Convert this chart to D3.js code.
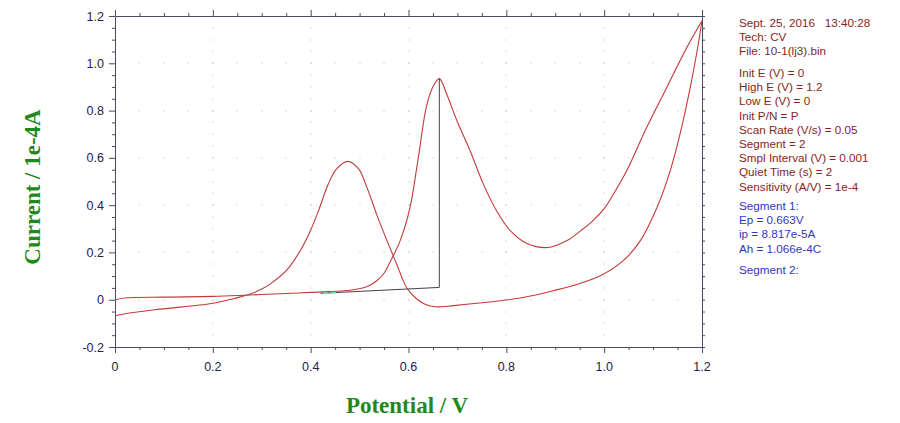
<!DOCTYPE html>
<html>
<head>
<meta charset="utf-8">
<script src="https://cdn.jsdelivr.net/npm/d3@7"></script>
<style>
  body { margin: 0; background: #fff; }
  svg { display: block; }
  .tick-label { font-family: "Liberation Sans", Arial, sans-serif; font-size: 12.5px; fill: #22224a; }
  .title { font-family: "Liberation Serif", "Times New Roman", serif; font-weight: bold; fill: #1e8a1e; }
  .info { font-family: "Liberation Sans", Arial, sans-serif; font-size: 11.7px; }
</style>
</head>
<body>
<svg id="chart" width="900" height="423"></svg>
<script>
// data

// forward scan 0 -> 1.2 V
var forwardE = [0, 0.02, 0.1, 0.2, 0.276, 0.35, 0.4, 0.47, 0.49, 0.51, 0.52, 0.535, 0.55, 0.562, 0.583, 0.603, 0.62, 0.637,
                0.651, 0.663, 0.678, 0.699, 0.726, 0.753, 0.78, 0.808, 0.842, 0.886, 0.924, 0.951, 0.975, 1.0, 1.02, 1.046,
                1.087, 1.128, 1.169, 1.2];
var forwardI = [0, 0.007, 0.011, 0.014, 0.02, 0.026, 0.031, 0.038, 0.043, 0.052, 0.06, 0.08, 0.112, 0.158, 0.25, 0.39, 0.6,
                0.82, 0.905, 0.935, 0.87, 0.757, 0.63, 0.489, 0.376, 0.292, 0.238, 0.221, 0.25, 0.29, 0.33, 0.385, 0.45,
                0.545, 0.729, 0.898, 1.067, 1.18];

// reverse scan 1.2 -> 0 V (stored with ascending potential)
var reverseE = [0, 0.024, 0.092, 0.198, 0.24, 0.256, 0.276, 0.3, 0.317, 0.351, 0.378, 0.399, 0.416, 0.436, 0.453, 0.476,
                0.498, 0.515, 0.535, 0.556, 0.576, 0.596, 0.617, 0.635, 0.655, 0.692, 0.76, 0.828, 0.869, 0.896, 0.937,
                0.992, 1.039, 1.074, 1.108, 1.135, 1.155, 1.176, 1.19, 1.2];
var reverseI = [-0.068, -0.058, -0.04, -0.016, 0.003, 0.012, 0.024, 0.045, 0.066, 0.125, 0.205, 0.29, 0.376, 0.489, 0.553,
                0.585, 0.553, 0.475, 0.36, 0.25, 0.15, 0.052, 0.003, -0.02, -0.03, -0.025, -0.011, 0.007, 0.024, 0.038,
                0.06, 0.101, 0.165, 0.25, 0.39, 0.545, 0.70, 0.898, 1.053, 1.18];

// peak baseline and peak marker
var baselineE = [0.42, 0.663];
var baselineI = [0.027, 0.052];
var markE = [0.425, 0.455];
var peakE = 0.663, peakI = 0.935;

// ticks
var xTicks = [0, 0.2, 0.4, 0.6, 0.8, 1.0, 1.2];
var xTickLabels = ["0", "0.2", "0.4", "0.6", "0.8", "1.0", "1.2"];
var yTicks = [-0.2, 0, 0.2, 0.4, 0.6, 0.8, 1.0, 1.2];
var yTickLabels = ["-0.2", "0", "0.2", "0.4", "0.6", "0.8", "1.0", "1.2"];

// parameter text on the right
var headerLines = ["Sept. 25, 2016   13:40:28", "Tech: CV", "File: 10-1(lj3).bin"];
var paramLines = ["Init E (V) = 0", "High E (V) = 1.2", "Low E (V) = 0", "Init P/N = P", "Scan Rate (V/s) = 0.05",
                  "Segment = 2", "Smpl Interval (V) = 0.001", "Quiet Time (s) = 2", "Sensitivity (A/V) = 1e-4"];
var seg1Lines = ["Segment 1:", "Ep = 0.663V", "ip = 8.817e-5A", "Ah = 1.066e-4C"];
var seg2Lines = ["Segment 2:"];

var svg = d3.select("#chart"),
    plotLeft = 115, plotTop = 16, plotRight = 702, plotBottom = 347;

var x = d3.scaleLinear().domain([0, 1.2]).range([plotLeft, plotRight]),
    y = d3.scaleLinear().domain([-0.2, 1.2]).range([plotBottom, plotTop]);

var axisColor = "#4a4a68",
    curveColor = "#c23a3a",
    dotColor = "#b8b8b8";

var minorX = d3.range(0, 1.2001, 0.05),
    minorY = d3.range(-0.2, 1.2001, 0.05);

//---------- dotted grid ----------
var dots = [];
yTicks.forEach(function(v) {
  minorX.forEach(function(u) { dots.push([u, v]); });
});
xTicks.forEach(function(u) {
  minorY.forEach(function(v) { dots.push([u, v]); });
});
svg.append("g").selectAll("rect")
  .data(dots.filter(function(d) { return d[0] > 0.01 && d[0] < 1.19 && d[1] > -0.19 && d[1] < 1.19; }))
  .enter().append("rect")
  .attr("x", function(d) { return Math.round(x(d[0])) - 0.5; })
  .attr("y", function(d) { return Math.round(y(d[1])) - 0.5; })
  .attr("width", 1).attr("height", 1)
  .attr("fill", dotColor);

//---------- axes ----------
function isMajor(v, step) { return Math.abs(v / step - Math.round(v / step)) < 1e-6; }

var bottomAxis = d3.axisBottom(x).tickValues(minorX).tickFormat("").tickSizeOuter(0);
var gB = svg.append("g").attr("transform", "translate(0," + plotBottom + ")").call(bottomAxis);
gB.selectAll(".tick line").attr("y2", function(d) { return isMajor(d, 0.2) ? 6 : 3; });

var topAxis = d3.axisTop(x).tickValues(minorX).tickFormat("").tickSizeOuter(0);
var gT = svg.append("g").attr("transform", "translate(0," + plotTop + ")").call(topAxis);
gT.selectAll(".tick line").attr("y2", function(d) { return isMajor(d, 0.2) ? -6 : -3; });

var leftAxis = d3.axisLeft(y).tickValues(minorY).tickFormat("").tickSizeOuter(0);
var gL = svg.append("g").attr("transform", "translate(" + plotLeft + ",0)").call(leftAxis);
gL.selectAll(".tick line").attr("x2", function(d) { return isMajor(d, 0.2) ? -6 : -3; });

var rightAxis = d3.axisRight(y).tickValues(minorY).tickFormat("").tickSizeOuter(0);
var gR = svg.append("g").attr("transform", "translate(" + plotRight + ",0)").call(rightAxis);
gR.selectAll(".tick line").attr("x2", 3);

svg.selectAll(".domain, .tick line").attr("stroke", axisColor);

// tick labels
svg.append("g").selectAll("text")
  .data(xTicks)
  .enter().append("text")
  .attr("class", "tick-label")
  .attr("x", function(d) { return x(d); })
  .attr("y", plotBottom + 24)
  .attr("text-anchor", "middle")
  .text(function(d, i) { return xTickLabels[i]; });

svg.append("g").selectAll("text")
  .data(yTicks)
  .enter().append("text")
  .attr("class", "tick-label")
  .attr("x", plotLeft - 11)
  .attr("y", function(d) { return y(d) + 4.5; })
  .attr("text-anchor", "end")
  .text(function(d, i) { return yTickLabels[i]; });

//---------- curves ----------
var line = d3.line()
  .x(function(d) { return x(d[0]); })
  .y(function(d) { return y(d[1]); })
  .curve(d3.curveCatmullRom.alpha(0.5));

svg.append("path")
  .datum(d3.zip(forwardE, forwardI))
  .attr("d", line)
  .attr("fill", "none").attr("stroke", curveColor).attr("stroke-width", 1.1);

svg.append("path")
  .datum(d3.zip(reverseE, reverseI))
  .attr("d", line)
  .attr("fill", "none").attr("stroke", curveColor).attr("stroke-width", 1.1);

// baseline under the peak and the peak height
var baseAt = d3.scaleLinear().domain(baselineE).range(baselineI);
svg.append("path")
  .datum(d3.zip(baselineE, baselineI).concat([[peakE, peakI]]))
  .attr("d", d3.line().x(function(d) { return x(d[0]); }).y(function(d) { return y(d[1]); }))
  .attr("fill", "none").attr("stroke", "#444").attr("stroke-width", 1);

svg.append("line")
  .attr("x1", x(markE[0])).attr("y1", y(baseAt(markE[0])))
  .attr("x2", x(markE[1])).attr("y2", y(baseAt(markE[1])))
  .attr("stroke", "#5fe0c8").attr("stroke-width", 1.5)
  .attr("stroke-dasharray", "5,3");

//---------- titles ----------
svg.append("text")
  .attr("class", "title")
  .attr("x", 407)
  .attr("y", 413)
  .attr("text-anchor", "middle")
  .style("font-size", "23px")
  .text("Potential / V");

svg.append("text")
  .attr("class", "title")
  .attr("transform", "translate(40,187) rotate(-90)")
  .attr("text-anchor", "middle")
  .style("font-size", "23px")
  .text("Current / 1e-4A");

//---------- parameter block ----------
var infoX = 739, lineH = 14.2;
function block(lines, y0, color) {
  svg.append("g").selectAll("text")
    .data(lines)
    .enter().append("text")
    .attr("class", "info")
    .attr("x", infoX)
    .attr("y", function(d, i) { return y0 + i * lineH; })
    .attr("fill", color)
    .attr("xml:space", "preserve")
    .style("white-space", "pre")
    .text(function(d) { return d; });
}
block(headerLines, 27, "#8a2424");
block(paramLines, 77, "#8a2424");
block(seg1Lines, 210, "#3535c0");
block(seg2Lines, 274, "#3535c0");
</script>
</body>
</html>
